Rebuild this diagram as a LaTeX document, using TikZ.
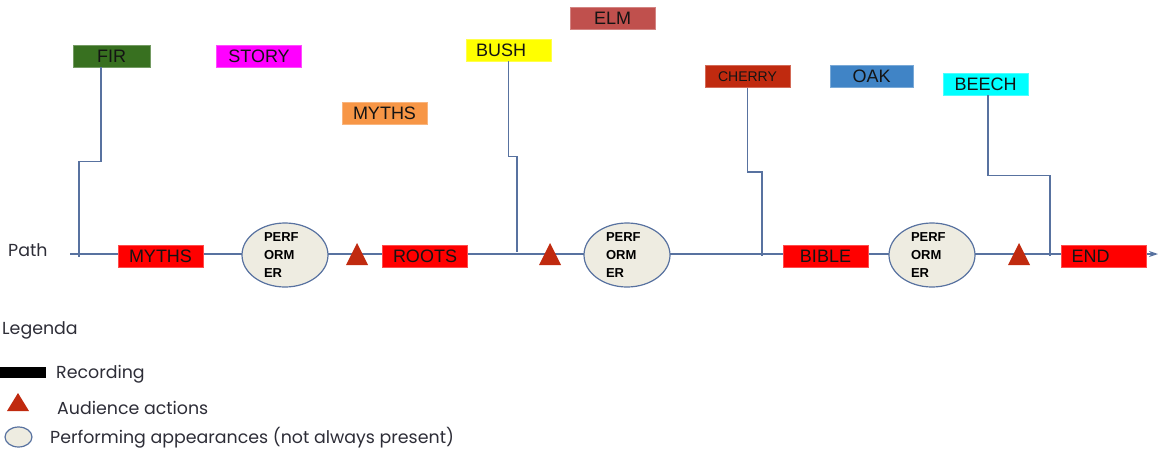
\documentclass[tikz,border=0pt]{standalone}
\usepackage{fontspec}
\setmainfont{Liberation Sans}
\newfontfamily\legfont{Poppins}
\usetikzlibrary{shapes.geometric,arrows.meta}
\definecolor{lineblue}{RGB}{88,114,160}
\definecolor{firgreen}{RGB}{56,112,32}
\definecolor{storymag}{RGB}{255,0,255}
\definecolor{mythorange}{RGB}{247,150,70}
\definecolor{bushyellow}{RGB}{255,255,0}
\definecolor{elmred}{RGB}{192,80,77}
\definecolor{cherryred}{RGB}{192,42,15}
\definecolor{oakblue}{RGB}{64,132,198}
\definecolor{beechcyan}{RGB}{0,255,255}
\definecolor{pathred}{RGB}{255,0,0}
\definecolor{perffill}{RGB}{238,236,225}
\definecolor{legtext}{RGB}{45,45,55}
\definecolor{boxtext}{RGB}{20,20,20}
\tikzset{
  conn/.style={draw=lineblue, line width=1.4pt},
  tbox/.style={rectangle, inner sep=0pt, minimum width=85pt, minimum height=22pt,
    fill=#1, draw=#1!70!white, line width=0.8pt, text=boxtext,
    font=\fontsize{18}{20}\selectfont},
  perf/.style={ellipse, inner sep=0pt, minimum width=86pt, minimum height=64pt,
    fill=perffill, draw=lineblue, line width=1.2pt},
  perftext/.style={inner sep=0pt, text width=42pt, align=left,
    font=\bfseries\fontsize{13}{18}\selectfont},
  tri/.style={fill=cherryred},
  legtxt/.style={anchor=west, inner sep=0pt, text=legtext, font=\legfont\fontsize{17.4}{20}\selectfont},
}
\begin{document}
\begin{tikzpicture}[x=1pt,y=-1pt]
\useasboundingbox (0,0) rectangle (1160,450);
% main path
\coordinate (start) at (70,254);
\coordinate (finish) at (1158,254);
\draw[conn, -{Stealth[length=9pt,width=6pt]}] (start) -- (finish);
\node[legtxt] (pathlbl) at (8,250) {Path};

% top boxes
\node[tbox=firgreen] (fir) at (111.5,56) [minimum width=77pt] {FIR};
\node[tbox=storymag] (story) at (259,56) {STORY};
\node[tbox=mythorange] (myths2) at (384.5,113) {MYTHS};
\node[tbox=bushyellow, text width=65pt, align=left] (bush) at (508.5,50) {BUSH};
\node[tbox=elmred] (elm) at (612.5,18) {ELM};
\node[tbox=cherryred, font=\fontsize{14}{16}\selectfont] (cherry) at (747.5,76.5) {CHERRY};
\node[tbox=oakblue, minimum width=83pt] (oak) at (871.5,76) {OAK};
\node[tbox=beechcyan] (beech) at (985.5,84) {BEECH};

% connectors
\coordinate (j1) at (79,257);
\coordinate (j2) at (517,252);
\coordinate (j3) at (762,256);
\coordinate (j4) at (1050,256);
\draw[conn] ([xshift=-10.5pt]fir.south) -- ++(0,94) -| (j1);
\draw[conn] (bush.south) -- ++(0,95) -| (j2);
\draw[conn] (cherry.south) -- ++(0,84) -| (j3);
\draw[conn] ([xshift=2.5pt]beech.south) -- ++(0,80) -| (j4);

% path items
\node[tbox=pathred] (myths1) at (160.5,256) {MYTHS};
\node[perf] (p1) at (285,255) {};
\node[perftext] (p1t) at (p1) {PERF\\ORM\\ER};
\coordinate (t1) at (357,254);
\fill[tri] ([shift={(-11,11)}]t1) -- ([shift={(0,-11)}]t1) -- ([shift={(11,11)}]t1) -- cycle;
\node[tbox=pathred] (roots) at (425,256) {ROOTS};
\coordinate (t2) at (550,254);
\fill[tri] ([shift={(-11,11)}]t2) -- ([shift={(0,-11)}]t2) -- ([shift={(11,11)}]t2) -- cycle;
\node[perf] (p2) at (627,255) {};
\node[perftext] (p2t) at (p2) {PERF\\ORM\\ER};
\node[tbox=pathred] (bible) at (825.5,256) {BIBLE};
\node[perf] (p3) at (932,255) {};
\node[perftext] (p3t) at (p3) {PERF\\ORM\\ER};
\coordinate (t3) at (1019,254);
\fill[tri] ([shift={(-11,11)}]t3) -- ([shift={(0,-11)}]t3) -- ([shift={(11,11)}]t3) -- cycle;
\node[tbox=pathred, text width=65pt, align=left] (endbox) at (1104,256) {END};

% legend
\node[legtxt] (legenda) at (2,330) {Legenda};
\node[fill=black, inner sep=0pt, minimum width=46pt, minimum height=11pt] (recbar) at (23,372.5) {};
\node[legtxt] (rec) at (56,374) {Recording};
\coordinate (lt) at (18,402);
\fill[tri] ([shift={(-11,9)}]lt) -- ([shift={(0,-9)}]lt) -- ([shift={(11,9)}]lt) -- cycle;
\node[legtxt] (aud) at (57,408) {Audience actions};
\node[perf, minimum width=27pt, minimum height=20pt] (lellipse) at (18.5,437) {};
\node[legtxt] (perfleg) at (50,438) {Performing appearances (not always present)};
\end{tikzpicture}
\end{document}
